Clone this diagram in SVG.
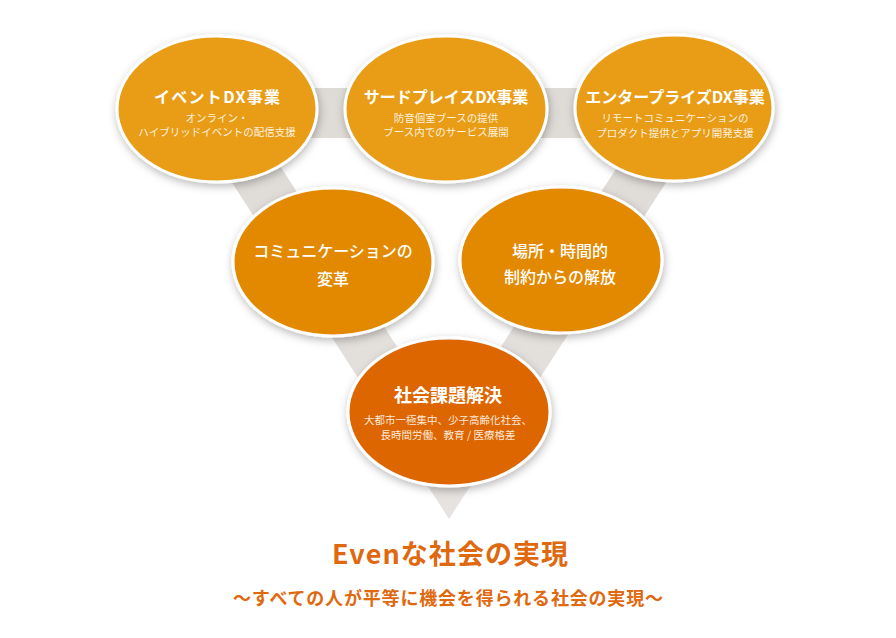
<svg xmlns="http://www.w3.org/2000/svg" width="896" height="638" viewBox="0 0 896 638">
<style>
.t{font-family:"Noto Sans CJK JP","Noto Sans",sans-serif;text-anchor:middle;fill:#fff}
.h{font-size:16px;font-weight:bold}
.m{font-size:16px;font-weight:500}
.s{font-size:10.5px;fill:#fff;fill-opacity:0.88}
.n{stroke:#fff;stroke-width:3;filter:url(#sh)}
.c1{fill:#E99D18}
.c2{fill:#E38905}
.c3{fill:#DD6605}
.o{fill:#E0680E;font-weight:bold}
</style>
<defs>
<filter id="sh" x="-20%" y="-20%" width="140%" height="150%">
<feDropShadow dx="1" dy="3" stdDeviation="4" flood-color="#000" flood-opacity="0.28"/>
</filter>
<linearGradient id="bg" x1="0" y1="0" x2="0" y2="1">
<stop offset="0" stop-color="#dedad6"/>
<stop offset="1" stop-color="#e6e3e0"/>
</linearGradient>
</defs>
<rect width="896" height="638" fill="#fff"/>
<g id="connectors">
<path d="M171,88 L727,88 L449,519 Z M262,138 L449,427 L636,138 Z" fill="url(#bg)" fill-rule="evenodd"/>
</g>
<g id="event-dx">
<ellipse class="n c1" cx="217" cy="109" rx="100" ry="73"/>
<text class="t h" x="217" y="103" textLength="126" lengthAdjust="spacing">イベントDX事業</text>
<text class="t s" x="217" y="122">オンライン・</text>
<text class="t s" x="217" y="136">ハイブリッドイベントの配信支援</text>
</g>
<g id="thirdplace-dx">
<ellipse class="n c1" cx="446" cy="109" rx="101" ry="73"/>
<text class="t h" x="446" y="103">サードプレイスDX事業</text>
<text class="t s" x="446" y="122">防音個室ブースの提供</text>
<text class="t s" x="446" y="136">ブース内でのサービス展開</text>
</g>
<g id="enterprise-dx">
<ellipse class="n c1" cx="674" cy="108" rx="99" ry="73"/>
<text class="t h" x="675" y="103">エンタープライズDX事業</text>
<text class="t s" x="675" y="122">リモートコミュニケーションの</text>
<text class="t s" x="675" y="137">プロダクト提供とアプリ開発支援</text>
</g>
<g id="communication">
<ellipse class="n c2" cx="333" cy="262" rx="100" ry="74"/>
<text class="t m" x="333" y="257">コミュニケーションの</text>
<text class="t m" x="333" y="285">変革</text>
</g>
<g id="place-time">
<ellipse class="n c2" cx="561" cy="260" rx="101" ry="73"/>
<text class="t m" x="560" y="257">場所・時間的</text>
<text class="t m" x="560" y="283">制約からの解放</text>
</g>
<g id="social-issues">
<ellipse class="n c3" cx="449" cy="412" rx="101" ry="74"/>
<text class="t" x="448" y="402" font-size="18" font-weight="bold">社会課題解決</text>
<text class="t s" x="448" y="424">大都市一極集中、少子高齢化社会、</text>
<text class="t s" x="448" y="439">長時間労働、教育 / 医療格差</text>
</g>
<g id="goal">
<text class="t o" x="450" y="564" font-size="27" textLength="236" lengthAdjust="spacing">Evenな社会の実現</text>
<text class="t o" x="448" y="605" font-size="18" textLength="430" lengthAdjust="spacing">〜すべての人が平等に機会を得られる社会の実現〜</text>
</g>
</svg>
